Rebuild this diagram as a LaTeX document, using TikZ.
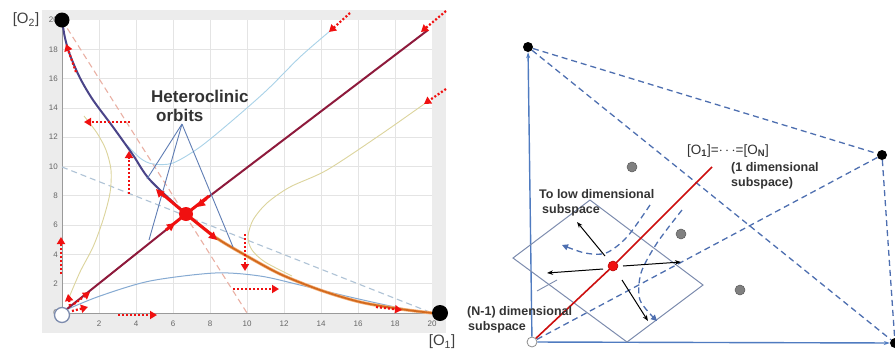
\documentclass[tikz,border=0pt]{standalone}
\usepackage{fontspec}
\setmainfont{Liberation Sans}
\usetikzlibrary{arrows.meta}
\definecolor{framegray}{HTML}{ECECEC}
\definecolor{gridc}{HTML}{E4E4E4}
\definecolor{axisc}{HTML}{9A9A9A}
\definecolor{redc}{HTML}{F01010}
\definecolor{maroon}{HTML}{8E1A3C}
\definecolor{purp}{HTML}{4A4488}
\definecolor{orng}{HTML}{D2691E}
\definecolor{orngl}{HTML}{F6B27A}
\definecolor{lblue}{HTML}{A9D2E8}
\definecolor{mblue}{HTML}{86AAD2}
\definecolor{ylw}{HTML}{DCD49C}
\definecolor{pinkd}{HTML}{EAB0A4}
\definecolor{bluegd}{HTML}{AFC3D6}
\definecolor{leadc}{HTML}{5F7DB4}
\definecolor{axblue}{HTML}{4F7BC0}
\definecolor{dblue}{HTML}{4E6FB0}
\definecolor{rectc}{HTML}{7D8CAE}
\definecolor{txtc}{HTML}{333333}
\begin{document}
\begin{tikzpicture}[x=1pt,y=-1pt,
  tick/.style={font=\fontsize{8}{9}\selectfont, text=black!60, inner sep=0pt},
  redtail/.style={draw=redc, line width=2.2pt, dash pattern=on 2pt off 2pt, -{Triangle[length=7pt,width=8pt]}},
  redtip/.style={draw=redc, line width=1.5pt, -{Triangle[length=8pt,width=8pt]}},
  bigdot/.style={circle, fill=black, inner sep=0pt, minimum size=#1},
  bigdot/.default=15pt,
  graydot/.style={circle, fill=black!50, draw=black!65, line width=0.5pt, inner sep=0pt, minimum size=10pt},
  lbl/.style={font=\fontsize{12.5}{14.5}\selectfont\bfseries, text=txtc, inner sep=0pt, align=left, anchor=west},
  bdash/.style={draw=dblue, line width=1.3pt, dash pattern=on 6pt off 4pt},
  blk/.style={draw=black, line width=1pt, -{Stealth[length=6pt,width=4.5pt]}}
]
\useasboundingbox (0,0) rectangle (895,354);
% ================= LEFT PLOT =================
\fill[framegray] (42,10) rectangle (446,333);
\fill[white] (62,20) rectangle (432,313);
\foreach \i in {2,4,...,18} {
  \draw[gridc, line width=0.8pt] ({62+18.5*\i},20) -- ({62+18.5*\i},313);
  \draw[gridc, line width=0.8pt] (62,{313-14.65*\i}) -- (432,{313-14.65*\i});
}
\draw[axisc, line width=1pt] (62,20) -- (62,313) -- (432,313);
\foreach \i in {2,4,...,20} \node[tick] at ({62+18.5*\i},324) {\i};
\foreach \i in {0,2,...,20} \node[tick, anchor=east] at (58,{313-14.65*\i}) {\i};
% nullclines
\draw[pinkd, line width=1.1pt, dash pattern=on 6pt off 4pt] (62,20) -- (247,313);
\draw[bluegd, line width=1.1pt, dash pattern=on 6pt off 4pt] (62,167) -- (432,313);
% thin orbits
\draw[ylw, line width=0.9pt] plot[smooth] coordinates {(68,300) (80,272) (93,247) (103,220) (110,193) (111,170) (106,150) (97,133) (84,116)};
\draw[ylw, line width=0.9pt] plot[smooth] coordinates {(427,102) (380,135) (327,170) (290,187) (267,203) (253,220) (248,237) (252,250) (265,262) (292,276)};
\draw[lblue, line width=0.9pt] plot[smooth] coordinates {(122,140) (140,158) (153,164) (173,163) (200,147) (233,120) (267,90) (300,57) (330,31)};
\draw[mblue, line width=1pt] plot[smooth] coordinates {(68,309) (100,296) (150,281) (215,273) (260,276) (300,285) (350,297) (400,308) (432,313)};
% heteroclinic orbits
\draw[orngl, line width=3.2pt] plot[smooth] coordinates {(186,214) (215,237) (245,255) (280,274) (320,290) (360,302) (400,309) (432,313)};
\draw[orng, line width=1.8pt] plot[smooth] coordinates {(186,214) (215,237) (245,255) (280,274) (320,290) (360,302) (400,309) (432,313)};
\draw[maroon, line width=2pt] (62,313) -- (186,214) -- (428,30);
\draw[purp, line width=2pt] plot[smooth] coordinates {(62,20) (65,38) (70,55) (80,78) (93,100) (113,127) (133,155) (150,180) (186,214)};
% leader lines and label
\coordinate (apex) at (182,124);
\draw[leadc, line width=0.9pt] (apex) -- (147,179);
\draw[leadc, line width=0.9pt] (apex) -- (149,240);
\draw[leadc, line width=0.9pt] (apex) -- (233,247);
\node[font=\fontsize{17}{19.5}\selectfont\bfseries, text=txtc, align=left, anchor=west, inner sep=0pt] (het) at (151,106) {Heteroclinic\\\hspace{5pt}orbits};
% red overlay near the saddle
\draw[redc, line width=3pt] (160,192) -- (186,214) -- (212,235);
\draw[redc, line width=3pt] (166,230) -- (186,214) -- (209,196);
\draw[redtip] (164,197) -- (156,189);
\draw[redtip] (207,199) -- (197,207);
\draw[redtip] (166,230) -- (175,223);
\draw[redtip] (208,232) -- (217,240);
% red dotted arrows
\draw[redtail] (76,72) -- (66,44);
\draw[redtail] (130,122) -- (84,122);
\draw[redtail] (129,194) -- (129,151);
\draw[redtail] (245,234) -- (245,271);
\draw[redtail] (233,289) -- (279,289);
\draw[redtail] (61,274) -- (61,237);
\draw[redtail] (118,315) -- (157,315);
\draw[redtail] (376,307) -- (402,310);
\draw[redtail] (350,13) -- (329,32);
\draw[redtail] (446,11) -- (421,32);
\draw[redtail] (446,89) -- (424,104);
\draw[redtail] (70,306) -- (68,294);
\draw[redtail] (74,304) -- (90,292);
\draw[redtail] (72,311) -- (88,307);
% points
\node[circle, fill=redc, inner sep=0pt, minimum size=14pt] (saddle) at (186,214) {};
\node[bigdot=15pt] (O2) at (62,20) {};
\node[bigdot=16pt] (O1) at (440,313) {};
\node[circle, fill=white, draw=rectc, line width=1.3pt, inner sep=0pt, minimum size=15pt] (O0) at (62,315) {};
\node[font=\fontsize{15}{16}\selectfont, text=black!75, inner sep=0pt] (lO2) at (26,20) {[O\textsubscript{2}]};
\node[font=\fontsize{15}{16}\selectfont, text=black!75, inner sep=0pt] (lO1) at (442,342) {[O\textsubscript{1}]};
% ================= RIGHT DIAGRAM =================
\node[bigdot=10pt] (A) at (528,47) {};
\node[bigdot=10pt] (B) at (882,155) {};
\node[bigdot=10pt] (C) at (895,343) {};
\node[circle, fill=white, draw=black!45, line width=0.8pt, inner sep=0pt, minimum size=10pt] (O) at (532,342) {};
\draw[bdash] (A) -- (B);
\draw[bdash] (A) -- (C);
\draw[bdash] (B) -- (C);
\draw[bdash] (B) -- (O);
\draw[axblue, line width=1.4pt, -{Stealth[length=6pt,width=4pt]}] (O) -- (A);
\draw[axblue, line width=1.4pt, -{Stealth[length=6pt,width=4pt]}] (O) -- (C);
% subspace rectangle
\draw[rectc, line width=1pt] (513,258) -- (590,200) -- (703,285) -- (627,342) -- cycle;
% dashed flow curves
\draw[bdash, -{Triangle[length=6pt,width=6pt]}] plot[smooth] coordinates {(650,205) (627,237) (606,253) (585,253) (562,245)};
\draw[bdash, -{Triangle[length=6pt,width=6pt]}] plot[smooth] coordinates {(682,210) (657,243) (641,273) (640,300) (657,321)};
% red line and point
\node[circle, fill=redc, draw=red!70!black, line width=0.5pt, inner sep=0pt, minimum size=10pt] (P) at (613,266) {};
\coordinate (Rtop) at (712,167);
\draw[redc!85!black, line width=1.6pt] (P) -- (Rtop);
\draw[redc!85!black, line width=1.6pt] (P) -- (O);
% black arrows
\draw[blk] (605,256) -- (577,222);
\draw[blk] (603,269) -- (547,273);
\draw[blk] (623,266) -- (681,262);
\draw[blk] (622,280) -- (648,321);
% gray dots
\node[graydot] (g1) at (632,167) {};
\node[graydot] (g2) at (681,234) {};
\node[graydot] (g3) at (740,290) {};
% labels
\node[font=\fontsize{13.5}{15}\selectfont, text=txtc, inner sep=0pt, anchor=west] (lab1) at (687,151) {[O\textsubscript{\textbf{1}}]=$\cdots$=[O\textsubscript{\textbf{N}}]};
\node[lbl] (lab2) at (731,176) {(1 dimensional\\subspace)};
\node[lbl] (lab3) at (539,203) {To low dimensional\\\hspace{3pt}subspace};
\node[lbl] (lab4) at (467,320) {(N-1) dimensional\\\hspace{1pt}subspace};
\draw[rectc, line width=0.9pt] (537,291) -- (557,280);
\end{tikzpicture}
\end{document}
